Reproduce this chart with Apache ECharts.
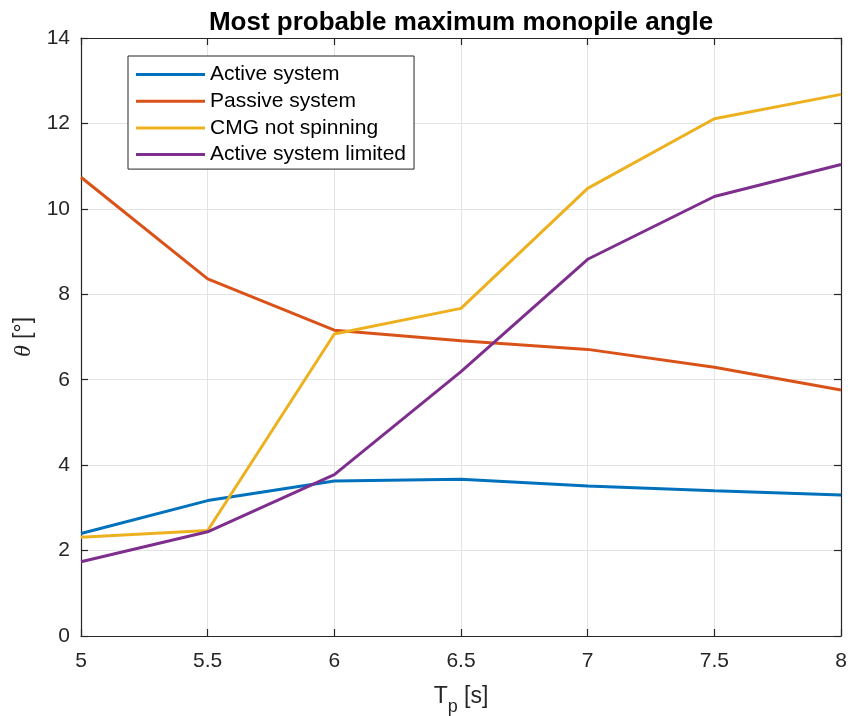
<!DOCTYPE html>
<html>
<head>
<meta charset="utf-8">
<script src="https://cdn.jsdelivr.net/npm/echarts@6/dist/echarts.min.js"></script>
<style>
html,body{margin:0;padding:0;background:#fff;}
#chart{width:851px;height:716px;}
</style>
</head>
<body>
<div id="chart"></div>
<script>
const tp = [5, 5.5, 6, 6.5, 7, 7.5, 8];
const activeSystem = [2.40, 3.17, 3.63, 3.67, 3.51, 3.40, 3.30];
const passiveSystem = [10.74, 8.36, 7.16, 6.91, 6.71, 6.29, 5.76];
const cmgNotSpinning = [2.31, 2.47, 7.07, 7.67, 10.48, 12.11, 12.68];
const activeLimited = [1.74, 2.44, 3.78, 6.19, 8.82, 10.29, 11.04];
const seriesNames = ['Active system', 'Passive system', 'CMG not spinning', 'Active system limited'];
const seriesColors = ['#0072BD', '#D95319', '#EDB120', '#7E2F8E'];
const seriesValues = [activeSystem, passiveSystem, cmgNotSpinning, activeLimited];

const FONT = 'Liberation Sans, Arial, Helvetica, sans-serif';
const AX = '#262626';

const chart = echarts.init(document.getElementById('chart'), null, {renderer: 'canvas'});

function pairs(vals) { return tp.map((x, i) => [x, vals[i]]); }

const option = {
  backgroundColor: '#ffffff',
  animation: false,
  title: {
    text: 'Most probable maximum monopile angle',
    left: 461, top: 10, textAlign: 'center', padding: 0,
    textStyle: {fontFamily: FONT, fontSize: 26, fontWeight: 'bold', color: '#000'}
  },
  grid: {left: 81, right: 10, top: 38, bottom: 80, containLabel: false, outerBoundsMode: 'none'},
  legend: {
    orient: 'vertical',
    left: 128, top: 56,
    padding: [8, 8, 4, 8],
    backgroundColor: '#ffffff',
    borderColor: AX, borderWidth: 1, borderRadius: 0,
    icon: 'rect',
    itemWidth: 69, itemHeight: 3, itemGap: 5.7,
    textStyle: {fontFamily: FONT, fontSize: 21, color: '#000', lineHeight: 21},
    data: seriesNames
  },
  xAxis: [{
    type: 'value', min: 5, max: 8, interval: 0.5, position: 'bottom',
    name: 'T{sub|p} [s]', nameLocation: 'middle', nameGap: 42,
    nameTextStyle: {fontFamily: FONT, fontSize: 23, color: AX,
      rich: {sub: {fontFamily: FONT, fontSize: 18, color: AX, padding: [20, 0, 0, 0]}}},
    axisLine: {show: true, onZero: false, lineStyle: {color: AX, width: 1.2}},
    axisTick: {show: true, inside: true, length: 7, lineStyle: {color: AX, width: 1.2}},
    axisLabel: {fontFamily: FONT, fontSize: 21, color: AX, margin: 15,
      formatter: v => String(v)},
    splitLine: {show: true, lineStyle: {color: '#e3e3e3', width: 1}}
  }, {
    type: 'value', min: 5, max: 8, interval: 0.5, position: 'top',
    axisLine: {show: true, onZero: false, lineStyle: {color: AX, width: 1.2}},
    axisTick: {show: true, inside: true, length: 7, lineStyle: {color: AX, width: 1.2}},
    axisLabel: {show: false}, splitLine: {show: false}
  }],
  yAxis: [{
    type: 'value', min: 0, max: 14, interval: 2, position: 'left',
    name: '{i|θ} [°]', nameLocation: 'middle', nameGap: 40, nameRotate: 90,
    nameTextStyle: {fontFamily: FONT, fontSize: 23, color: AX,
      rich: {i: {fontFamily: 'Liberation Serif, DejaVu Serif, serif', fontStyle: 'italic', fontSize: 24, color: AX}}},
    axisLine: {show: true, onZero: false, lineStyle: {color: AX, width: 1.2}},
    axisTick: {show: true, inside: true, length: 7, lineStyle: {color: AX, width: 1.2}},
    axisLabel: {fontFamily: FONT, fontSize: 21, color: AX, margin: 11, padding: [4, 0, 0, 0]},
    splitLine: {show: true, lineStyle: {color: '#e3e3e3', width: 1}}
  }, {
    type: 'value', min: 0, max: 14, interval: 2, position: 'right',
    axisLine: {show: true, onZero: false, lineStyle: {color: AX, width: 1.2}},
    axisTick: {show: true, inside: true, length: 7, lineStyle: {color: AX, width: 1.2}},
    axisLabel: {show: false}, splitLine: {show: false}
  }],
  series: seriesNames.map((name, k) => ({
    name: name,
    type: 'line',
    xAxisIndex: 0, yAxisIndex: 0,
    data: pairs(seriesValues[k]),
    symbol: 'none', showSymbol: false,
    color: seriesColors[k],
    lineStyle: {color: seriesColors[k], width: 3},
    itemStyle: {color: seriesColors[k]},
    z: 2 + k
  }))
};
chart.setOption(option);
</script>
</body>
</html>
